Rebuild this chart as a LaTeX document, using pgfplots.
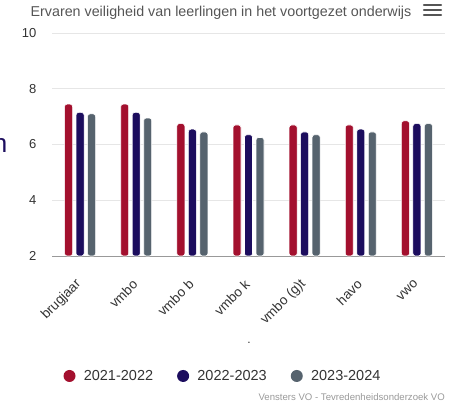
\documentclass[border=0pt]{standalone}
\usepackage{pgfplots}
\pgfplotsset{compat=1.18}
\usepackage{fontspec}
\setmainfont{Liberation Sans}
\definecolor{cred}{HTML}{A3102E}
\definecolor{cnavy}{HTML}{1C0D5E}
\definecolor{cgray}{HTML}{56636E}
\definecolor{gridc}{HTML}{E6E6E6}
\definecolor{txt}{HTML}{333333}
\definecolor{ttl}{HTML}{555555}
\definecolor{cred2}{HTML}{999999}
\pgfplotsset{mycirc/.style={legend image code/.code={\fill[##1,draw=none] (0bp,0bp) circle (6bp); \path (12bp,0bp);}}}
\begin{document}
\begin{tikzpicture}[x=1bp,y=1bp]
\useasboundingbox (0,0) rectangle (461,406);
\node[anchor=base, text=ttl, font=\fontsize{14.3bp}{16bp}\selectfont, inner sep=0] at (221,389.5) {Ervaren veiligheid van leerlingen in het voortgezet onderwijs};
\foreach \yy in {401,396,391} {\draw[line width=2.2bp, ttl, line cap=round] (424,\yy) -- (441,\yy);}
\node[anchor=base east, text=cnavy, font=\fontsize{26bp}{30bp}\selectfont, inner sep=0] at (7.5,254) {n};
\begin{axis}[name=ax,
  at={(52bp,150bp)}, anchor=south west,
  scale only axis, width=393bp, height=223bp,
  ymin=2, ymax=10, ytick={2,4,6,8,10},
  xmin=-0.5, xmax=6.5, xtick={0,...,6},
  xticklabels={brugjaar,vmbo,vmbo b,vmbo k,vmbo (g)t,havo,vwo},
  ybar=3.5bp, bar width=8bp,
  axis x line*=bottom, axis y line*=left,
  y axis line style={draw=none},
  x axis line style={draw=gray!80, line width=0.8bp},
  major tick length=0,
  ymajorgrids, grid style={draw=gridc, line width=0.8bp},
  /pgf/number format/assume math mode=true,
  tick label style={font=\fontsize{13bp}{15bp}\selectfont, text=txt},
  yticklabel style={anchor=east, inner sep=0, xshift=-15.5bp},
  xticklabel style={anchor=east, inner sep=0, font=\fontsize{13.5bp}{15bp}\selectfont, xshift=-1bp, yshift=-26bp, rotate=45},
  legend style={at={(0.435,-0.538)}, anchor=center, draw=none, fill=none, legend columns=3,
    font=\fontsize{14.5bp}{16bp}\selectfont, text=txt,
    /tikz/every even column/.append style={column sep=22bp}},
  legend cell align=left,
  every axis plot/.append style={draw=white, line width=0.6bp, rounded corners=2.5bp},
]
\addplot[fill=cred, mycirc] coordinates {(0,7.45) (1,7.45) (2,6.75) (3,6.7) (4,6.7) (5,6.7) (6,6.85)};
\addplot[fill=cnavy, mycirc] coordinates {(0,7.15) (1,7.15) (2,6.55) (3,6.35) (4,6.45) (5,6.55) (6,6.75)};
\addplot[fill=cgray, mycirc] coordinates {(0,7.1) (1,6.95) (2,6.45) (3,6.25) (4,6.35) (5,6.45) (6,6.75)};
\legend{2021-2022,2022-2023,2023-2024}
\end{axis}
\node[text=txt, font=\fontsize{12bp}{14bp}\selectfont, inner sep=0] at (249,63) {.};
\node[anchor=base east, text=cred2, font=\fontsize{9.6bp}{12bp}\selectfont, inner sep=0] at (445,6) {Vensters VO - Tevredenheidsonderzoek VO};
\end{tikzpicture}
\end{document}
